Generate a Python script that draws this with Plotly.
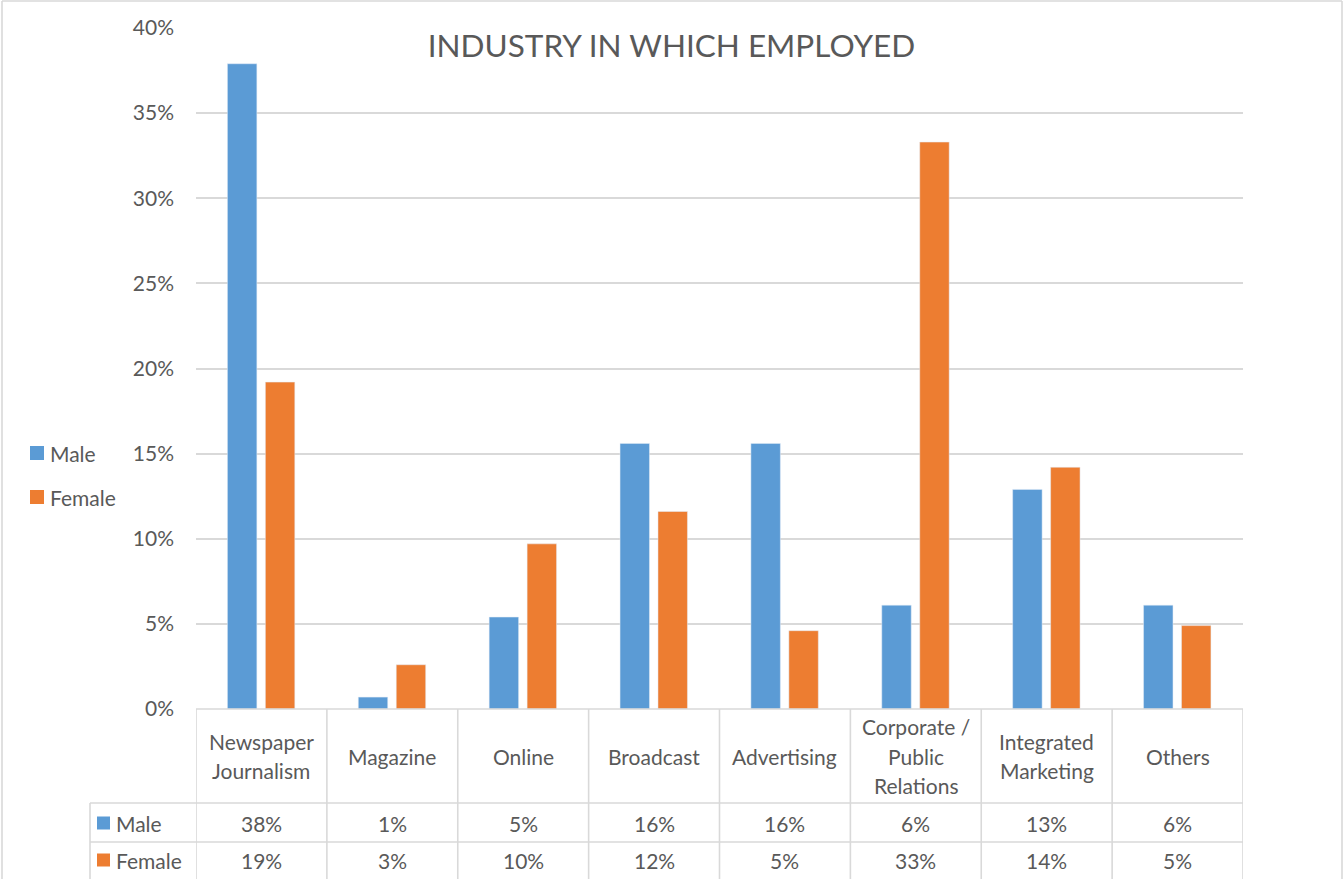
import plotly.graph_objects as go

# ---- data ----
categories = ["Newspaper<br>Journalism", "Magazine", "Online", "Broadcast", "Advertising",
              "Corporate /<br>Public<br>Relations", "Integrated<br>Marketing", "Others"]
male = [37.9, 0.7, 5.4, 15.6, 15.6, 6.1, 12.9, 6.1]
female = [19.2, 2.6, 9.7, 11.6, 4.6, 33.3, 14.2, 4.9]
series_names = ["Male", "Female"]
colors = ["#5B9BD5", "#ED7D31"]
title_text = "INDUSTRY IN WHICH EMPLOYED"

# ---- geometry ----
W, H = 1343, 879
L, R, T, B = 196, 100, 28, 170
PW, PH = W - L - R, H - T - B
BOTTOM = H - B  # pixel y of 0%

def px_x(p):
    return (p - L) / PW

def px_y(p):
    return (BOTTOM - p) / PH

FONT = "Lato"
TXT = "#595959"
GRID = "#D9D9D9"
FS = 21
LINE_H = 29.5

xs = list(range(len(categories)))
fig = go.Figure()
fig.add_trace(go.Bar(x=xs, y=male, name=series_names[0], marker_color=colors[0],
                     width=0.225, offset=-0.26, showlegend=False))
fig.add_trace(go.Bar(x=xs, y=female, name=series_names[1], marker_color=colors[1],
                     width=0.225, offset=0.03, showlegend=False))

shapes = []
line = dict(color=GRID, width=1.6)
# header/category column borders
for i in range(len(categories) + 1):
    shapes.append(dict(type="line", xref="x", yref="paper", x0=i - 0.5, x1=i - 0.5,
                       y0=0, y1=px_y(H + 2), line=line))
# top of table (axis line)
shapes.append(dict(type="line", xref="paper", yref="paper", x0=0, x1=1, y0=0, y1=0, line=line))
for yy in (803, 842):
    shapes.append(dict(type="line", xref="paper", yref="paper", x0=px_x(90), x1=1,
                       y0=px_y(yy), y1=px_y(yy), line=line))
shapes.append(dict(type="line", xref="paper", yref="paper", x0=px_x(90), x1=px_x(90),
                   y0=px_y(803), y1=px_y(H + 2), line=line))
# outer chart border
shapes.append(dict(type="line", xref="paper", yref="paper", x0=px_x(2), x1=px_x(2),
                   y0=px_y(1), y1=px_y(H + 2), line=line))
shapes.append(dict(type="line", xref="paper", yref="paper", x0=px_x(2), x1=px_x(1342),
                   y0=px_y(1), y1=px_y(1), line=line))
shapes.append(dict(type="line", xref="paper", yref="paper", x0=px_x(1342), x1=px_x(1342),
                   y0=px_y(1), y1=px_y(H + 2), line=line))

annotations = []
# legend (left side) and table row keys
for k, (lx, ly, tx) in enumerate(((30, 453, 50), (30, 497, 50))):
    shapes.append(dict(type="rect", xref="paper", yref="paper",
                       x0=px_x(lx), x1=px_x(lx + 14), y0=px_y(ly + 7), y1=px_y(ly - 7),
                       fillcolor=colors[k], line=dict(width=0)))
    annotations.append(dict(x=px_x(tx), y=px_y(ly), xref="paper", yref="paper",
                            text=series_names[k], showarrow=False,
                            font=dict(family=FONT, size=FS, color=TXT),
                            xanchor="left", yanchor="middle", xshift=-2))
for k, yc in enumerate((823, 860)):
    shapes.append(dict(type="rect", xref="paper", yref="paper",
                       x0=px_x(97), x1=px_x(110), y0=px_y(yc + 6.5), y1=px_y(yc - 6.5),
                       fillcolor=colors[k], line=dict(width=0)))

for i, c in enumerate(categories):
    parts = c.split("<br>")
    n = len(parts)
    for j, part in enumerate(parts):
        yc = 756 + (j - (n - 1) / 2) * LINE_H
        annotations.append(dict(x=i, y=px_y(yc), xref="x", yref="paper", text=part,
                                showarrow=False, font=dict(family=FONT, size=FS, color=TXT),
                                xanchor="center", yanchor="middle"))
for row, (vals, yc) in enumerate(((male, 823), (female, 860))):
    for i, v in enumerate(vals):
        annotations.append(dict(x=i, y=px_y(yc), xref="x", yref="paper",
                                text=f"{round(v)}%", showarrow=False,
                                font=dict(family=FONT, size=FS, color=TXT),
                                xanchor="center", yanchor="middle"))
    annotations.append(dict(x=px_x(116), y=px_y(yc), xref="paper", yref="paper",
                            text=series_names[row], showarrow=False,
                            font=dict(family=FONT, size=FS, color=TXT),
                            xanchor="left", yanchor="middle", xshift=-2))

fig.update_layout(
    width=W, height=H,
    margin=dict(l=L, r=R, t=T, b=B, autoexpand=False),
    paper_bgcolor="white", plot_bgcolor="white",
    barmode="overlay",
    title=dict(text=title_text, x=0.5, xref="container", xanchor="center",
               y=1 - 46 / H, yref="container", yanchor="middle",
               font=dict(family=FONT, size=31.5, color=TXT)),
    xaxis=dict(range=[-0.5, len(categories) - 0.5], showticklabels=False, showgrid=False,
               zeroline=False, showline=False, fixedrange=True),
    yaxis=dict(range=[0, 40], dtick=5, ticksuffix="%", showgrid=True, gridcolor=GRID,
               gridwidth=1.6, zeroline=False, showline=False, ticks="",
               tickfont=dict(family=FONT, size=FS, color=TXT), ticklabelstandoff=21),
    shapes=shapes, annotations=annotations,
    showlegend=False,
)

fig.write_html("out.html", config={"displayModeBar": False},
               post_script="document.body.style.margin='0';document.body.style.overflow='hidden';")
